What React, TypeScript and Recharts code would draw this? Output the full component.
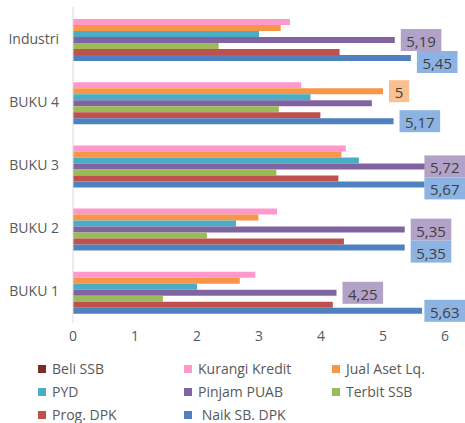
import React from "react";
import { BarChart, Bar, XAxis, YAxis, Legend, LabelList } from "recharts";

// Categories top to bottom
const categories = ["Industri", "BUKU 4", "BUKU 3", "BUKU 2", "BUKU 1"];

// Series values, one per category
const beliSSB = [0, 0, 0, 0, 0];
const kurangiKredit = [3.5, 3.68, 4.4, 3.29, 2.94];
const jualAsetLq = [3.35, 5, 4.33, 2.99, 2.69];
const pyd = [3.0, 3.83, 4.61, 2.63, 2.0];
const pinjamPUAB = [5.19, 4.82, 5.72, 5.35, 4.25];
const terbitSSB = [2.35, 3.32, 3.28, 2.16, 1.45];
const progDPK = [4.3, 3.99, 4.28, 4.37, 4.19];
const naikSBDPK = [5.45, 5.17, 5.67, 5.35, 5.63];

// Which bars carry a value box
const jualAsetLabelled = [false, true, false, false, false];
const pinjamLabelled = [true, false, true, true, true];
const naikLabelled = [true, true, true, true, true];

const xTicks = [0, 1, 2, 3, 4, 5, 6];

// Series order, used for bars and for the legend
const seriesOrder = [
  "beliSSB",
  "kurangiKredit",
  "jualAsetLq",
  "pyd",
  "pinjamPUAB",
  "terbitSSB",
  "progDPK",
  "naikSBDPK",
];

const data = categories.map((name, i) => ({
  name,
  beliSSB: beliSSB[i],
  kurangiKredit: kurangiKredit[i],
  jualAsetLq: jualAsetLq[i],
  pyd: pyd[i],
  pinjamPUAB: pinjamPUAB[i],
  terbitSSB: terbitSSB[i],
  progDPK: progDPK[i],
  naikSBDPK: naikSBDPK[i],
}));

const FONT = '"Open Sans", sans-serif';
const TEXT_GREY = "#595959";
const CHART_W = 465;
const CHART_H = 423;
const BOX_H = 22;
const BOX_GAP = 6;

const fmt = (v: number) => String(v).replace(".", ",");

function boxWidth(text: string) {
  let w = 0;
  for (const ch of text) w += ch === "," ? 4 : 8.2;
  return w + 12;
}

// Box to the right of the bar end, kept inside the chart
function boxLeft(barEnd: number, w: number) {
  const left = barEnd + BOX_GAP;
  return left + w > CHART_W ? CHART_W - w : left;
}

const ValueBox = ({ x, y, w, fill, text }: any) => (
  <g>
    <rect x={x} y={y} width={w} height={BOX_H} fill={fill} />
    <text
      x={x + w / 2}
      y={y + BOX_H / 2 + 1}
      textAnchor="middle"
      dominantBaseline="central"
      fontSize={15}
      fontFamily={FONT}
      fill="#404040"
    >
      {text}
    </text>
  </g>
);

const simpleLabel = (flags: boolean[], fill: string) => (props: any) => {
  const { x, y, width, height, value, index } = props;
  if (!flags[index]) return null;
  const text = fmt(Number(value));
  const w = boxWidth(text);
  const left = boxLeft(Number(x) + Number(width), w);
  const top = Number(y) + Number(height) / 2 - BOX_H / 2;
  return <ValueBox key={`lbl-${index}`} x={left} y={top} w={w} fill={fill} text={text} />;
};

// Blue boxes get pushed below a purple box when the two would collide
const naikLabel = (props: any) => {
  const { x, y, width, height, value, index } = props;
  if (!naikLabelled[index]) return null;
  const text = fmt(Number(value));
  const w = boxWidth(text);
  const left = boxLeft(Number(x) + Number(width), w);
  let top = Number(y) + Number(height) / 2 - BOX_H / 2;
  if (pinjamLabelled[index]) {
    const scale = Number(width) / Number(value);
    const pText = fmt(pinjamPUAB[index]);
    const pw = boxWidth(pText);
    const pLeft = boxLeft(Number(x) + pinjamPUAB[index] * scale, pw);
    const pCenter = Number(y) - 3 * Number(height) + Number(height) / 2;
    const pBottom = pCenter + BOX_H / 2;
    const overlapX = pLeft < left + w && left < pLeft + pw;
    if (overlapX && top < pBottom) top = pBottom;
  }
  return <ValueBox key={`naik-${index}`} x={left} y={top} w={w} fill="#8DB3E2" text={text} />;
};

const legendCols = [38, 184, 332];

const CustomLegend = ({ payload }: any) => {
  const items = [...(payload || [])].sort(
    (a: any, b: any) => seriesOrder.indexOf(a.dataKey) - seriesOrder.indexOf(b.dataKey)
  );
  return (
    <div style={{ position: "relative", width: CHART_W, height: 66, fontFamily: FONT }}>
      {items.map((entry: any, i: number) => (
        <div
          key={`legend-${i}`}
          style={{
            position: "absolute",
            left: legendCols[i % 3],
            top: Math.floor(i / 3) * 23,
            display: "flex",
            alignItems: "center",
            height: 22,
          }}
        >
          <div style={{ width: 8, height: 8, backgroundColor: entry.color }} />
          <span
            style={{
              marginLeft: 6,
              fontSize: 14,
              color: TEXT_GREY,
              whiteSpace: "pre",
              lineHeight: "22px",
            }}
          >
            {entry.value}
          </span>
        </div>
      ))}
    </div>
  );
};

export default function App() {
  return (
    <div style={{ position: "absolute", left: 0, top: 0, background: "#fff" }}>
      <BarChart
        width={CHART_W}
        height={CHART_H}
        data={data}
        layout="vertical"
        margin={{ top: 7, right: 20, left: 0, bottom: 70 }}
        barCategoryGap={6}
        barGap={0}
      >
        <XAxis
          type="number"
          domain={[0, 6]}
          ticks={xTicks}
          height={30}
          axisLine={false}
          tickLine={false}
          tick={{ fill: TEXT_GREY, fontSize: 14, fontFamily: FONT }}
        />
        <YAxis
          type="category"
          dataKey="name"
          width={73}
          tickLine={false}
          tickMargin={8}
          axisLine={{ stroke: "#D9D9D9" }}
          tick={{ fill: TEXT_GREY, fontSize: 14, fontFamily: FONT }}
        />
        <Legend
          layout="horizontal"
          verticalAlign="middle"
          align="center"
          wrapperStyle={{ left: 0, top: 358, width: CHART_W }}
          content={<CustomLegend />}
        />
        <Bar dataKey="beliSSB" name="Beli SSB" fill="#7B2C2A" isAnimationActive={false} />
        <Bar dataKey="kurangiKredit" name="Kurangi Kredit" fill="#FF99CC" isAnimationActive={false} />
        <Bar dataKey="jualAsetLq" name="Jual Aset Lq." fill="#F79646" isAnimationActive={false}>
          <LabelList dataKey="jualAsetLq" content={simpleLabel(jualAsetLabelled, "#FAC090")} />
        </Bar>
        <Bar dataKey="pyd" name="PYD" fill="#4BACC6" isAnimationActive={false} />
        <Bar dataKey="pinjamPUAB" name="Pinjam PUAB" fill="#8064A2" isAnimationActive={false}>
          <LabelList dataKey="pinjamPUAB" content={simpleLabel(pinjamLabelled, "#B3A2C7")} />
        </Bar>
        <Bar dataKey="terbitSSB" name="Terbit SSB" fill="#9BBB59" isAnimationActive={false} />
        <Bar dataKey="progDPK" name="Prog. DPK" fill="#C0504D" isAnimationActive={false} />
        <Bar dataKey="naikSBDPK" name=" Naik SB. DPK" fill="#4F81BD" isAnimationActive={false}>
          <LabelList dataKey="naikSBDPK" content={naikLabel} />
        </Bar>
      </BarChart>
    </div>
  );
}
